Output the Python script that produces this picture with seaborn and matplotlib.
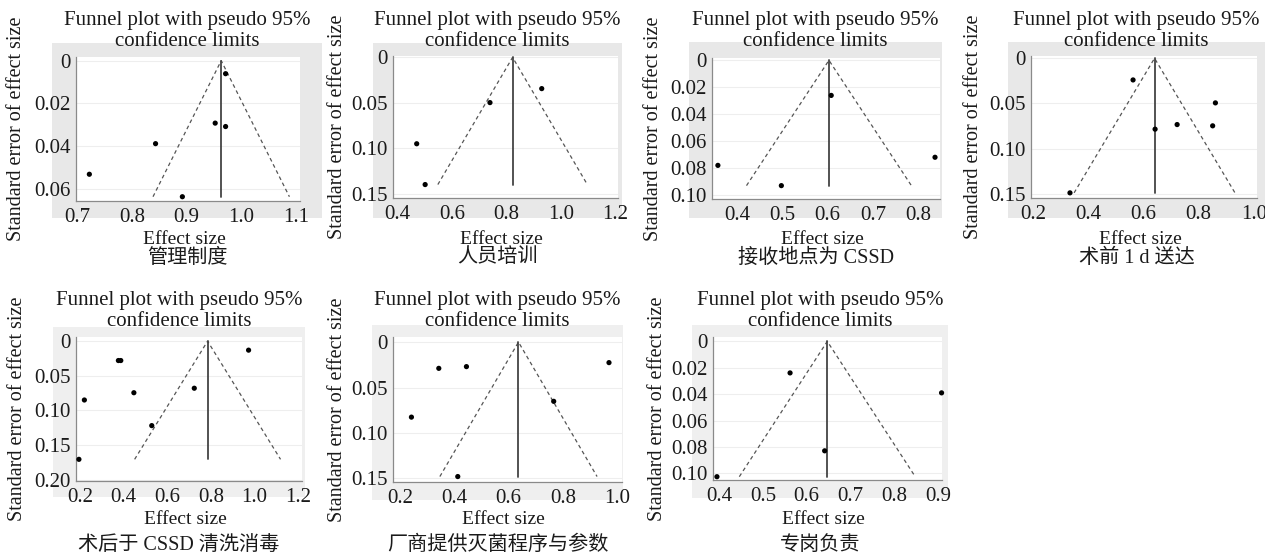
import numpy as np
import pandas as pd
import matplotlib
matplotlib.use("Agg")
import matplotlib.pyplot as plt
import matplotlib.patches as mpatches
import seaborn as sns

# 数据: 每个子图的效应量 (effect) 与标准误 (se)
names = ["管理制度", "人员培训", "接收地点为 CSSD", "术前 1 d 送达",
         "术后于 CSSD 清洗消毒", "厂商提供灭菌程序与参数", "专岗负责"]

effect_1 = [0.971, 0.952, 0.971, 0.843, 0.722, 0.892]
se_1 = [0.0061, 0.0292, 0.0308, 0.0388, 0.0531, 0.0636]
effect_2 = [0.929, 0.739, 0.470, 0.501]
se_2 = [0.0344, 0.0498, 0.0951, 0.1400]
effect_3 = [0.608, 0.358, 0.498, 0.837]
se_3 = [0.0260, 0.0778, 0.0928, 0.0718]
effect_4 = [0.562, 0.861, 0.722, 0.851, 0.642, 0.333]
se_4 = [0.0240, 0.0494, 0.0734, 0.0748, 0.0785, 0.1490]
effect_5 = [0.973, 0.376, 0.387, 0.724, 0.220, 0.447, 0.529, 0.195]
se_5 = [0.0130, 0.0280, 0.0280, 0.0680, 0.0850, 0.0745, 0.1220, 0.1707]
effect_6 = [0.970, 0.342, 0.444, 0.241, 0.766, 0.412]
se_6 = [0.0226, 0.0289, 0.0270, 0.0826, 0.0652, 0.1480]
effect_7 = [0.562, 0.908, 0.641, 0.395]
se_7 = [0.0239, 0.0390, 0.0829, 0.1025]

pooled = [0.963, 0.822, 0.603, 0.640, 0.785, 0.636, 0.647]

xticks = [[0.7, 0.8, 0.9, 1.0, 1.1], [0.4, 0.6, 0.8, 1.0, 1.2],
          [0.4, 0.5, 0.6, 0.7, 0.8], [0.2, 0.4, 0.6, 0.8, 1.0],
          [0.2, 0.4, 0.6, 0.8, 1.0, 1.2], [0.2, 0.4, 0.6, 0.8, 1.0],
          [0.4, 0.5, 0.6, 0.7, 0.8, 0.9]]
xticklabels = [["0.7", "0.8", "0.9", "1.0", "1.1"], ["0.4", "0.6", "0.8", "1.0", "1.2"],
               ["0.4", "0.5", "0.6", "0.7", "0.8"], ["0.2", "0.4", "0.6", "0.8", "1.0"],
               ["0.2", "0.4", "0.6", "0.8", "1.0", "1.2"], ["0.2", "0.4", "0.6", "0.8", "1.0"],
               ["0.4", "0.5", "0.6", "0.7", "0.8", "0.9"]]
yticks = [[0, 0.02, 0.04, 0.06], [0, 0.05, 0.10, 0.15],
          [0, 0.02, 0.04, 0.06, 0.08, 0.10], [0, 0.05, 0.10, 0.15],
          [0, 0.05, 0.10, 0.15, 0.20], [0, 0.05, 0.10, 0.15],
          [0, 0.02, 0.04, 0.06, 0.08, 0.10]]
yticklabels = [["0", "0.02", "0.04", "0.06"], ["0", "0.05", "0.10", "0.15"],
               ["0", "0.02", "0.04", "0.06", "0.08", "0.10"], ["0", "0.05", "0.10", "0.15"],
               ["0", "0.05", "0.10", "0.15", "0.20"], ["0", "0.05", "0.10", "0.15"],
               ["0", "0.02", "0.04", "0.06", "0.08", "0.10"]]

effects = [effect_1, effect_2, effect_3, effect_4, effect_5, effect_6, effect_7]
ses = [se_1, se_2, se_3, se_4, se_5, se_6, se_7]

# 坐标轴范围
xlims = [(0.6976, 1.107), (0.383, 1.209), (0.345, 0.848), (0.1915, 1.012),
         (0.1816, 1.218), (0.173, 1.018), (0.386, 0.909)]
ylims = [(0.0656, -0.0017), (0.1548, -0.0015), (0.1027, -0.0017), (0.1547, -0.0025),
         (0.2020, -0.0060), (0.1540, -0.0056), (0.1050, -0.0033)]

# 布局 (像素, 左上角原点): 绘图区与灰色背景
W, H = 1265, 555
ax_px = [(76, 57, 300, 201), (393, 56, 618, 198), (712, 58, 940, 199), (1031, 56, 1257, 198),
         (76, 337, 302, 481), (393, 337, 622, 482), (713, 337, 942, 480)]
bg_px = [(52, 43, 322, 218), (373, 43, 622, 218), (689, 42, 942, 218), (1008, 42, 1265, 218),
         (53, 327, 305, 497), (372, 325, 623, 500), (692, 325, 948, 498)]
bg_col = ["#e8e8e8"] * 4 + ["#efefef"] * 3

sns.set_theme(style="white")
plt.rcParams["font.family"] = ["Liberation Serif", "Noto Sans CJK SC"]
plt.rcParams["text.color"] = "#1a1a1a"

fig = plt.figure(figsize=(W / 100, H / 100), dpi=100)
fig.patch.set_facecolor("white")


def frac(x0, y0, x1, y1):
    return [x0 / W, 1 - y1 / H, (x1 - x0) / W, (y1 - y0) / H]


for i in range(7):
    b = bg_px[i]
    fig.patches.append(mpatches.Rectangle((b[0] / W, 1 - b[3] / H), (b[2] - b[0]) / W,
                                          (b[3] - b[1]) / H, transform=fig.transFigure,
                                          facecolor=bg_col[i], edgecolor="none", zorder=-5))

    a = ax_px[i]
    ax = fig.add_axes(frac(*a))
    ax.set_zorder(1)
    ax.set_facecolor("white")

    df = pd.DataFrame({"effect": effects[i], "se": ses[i]})
    p = pooled[i]
    smax = max(ses[i])

    # 伪 95% 置信限
    ax.plot([p - 1.96 * smax, p, p + 1.96 * smax], [smax, 0, smax],
            linestyle=(0, (3, 2.5)), color="#555555", lw=0.9, zorder=2)
    ax.plot([p, p], [0, smax], color="#444444", lw=1.3, zorder=2)

    sns.scatterplot(data=df, x="effect", y="se", ax=ax, color="black", s=14,
                    edgecolor="none", zorder=3, clip_on=False)

    ax.set_xlim(*xlims[i])
    ax.set_ylim(*ylims[i])
    ax.set_xticks(xticks[i])
    ax.set_xticklabels(xticklabels[i])
    ax.set_yticks(yticks[i])
    ax.set_yticklabels(yticklabels[i])
    ax.tick_params(axis="both", labelsize=15, length=3, width=0.8, color="#777777",
                   pad=1, labelcolor="#1a1a1a")
    ax.tick_params(axis="x", pad=2)
    ax.yaxis.grid(True, color="#eeeeee", lw=0.8)
    ax.set_axisbelow(True)
    for side in ["top", "right"]:
        ax.spines[side].set_visible(False)
    for side in ["left", "bottom"]:
        ax.spines[side].set_color("#8a8a8a")
        ax.spines[side].set_linewidth(0.9)
    ax.set_xlabel("")
    ax.set_ylabel("")

    # 文本
    cx = (b[0] + b[2]) / 2 / W
    ax_cx = (a[0] + a[2]) / 2 / W - 4 / W
    row_off = 0 if i < 4 else 280
    fig.text(cx, 1 - (20 + row_off) / H, "Funnel plot with pseudo 95%",
             ha="center", va="center", fontsize=15)
    fig.text(cx, 1 - (42 + row_off) / H, "confidence limits",
             ha="center", va="center", fontsize=15)
    fig.text(ax_cx, 1 - (239 + row_off) / H, "Effect size",
             ha="center", va="center", fontsize=14)
    fig.text((b[0] - 35) / W, 1 - ((a[1] + a[3]) / 2) / H, "Standard error of effect size",
             ha="center", va="center", rotation=90, fontsize=14.5)
    sub_y = 258 if i < 4 else 545
    fig.text(cx, 1 - sub_y / H, names[i], ha="center", va="center", fontsize=14.5)

fig.savefig("out.png", dpi=100)
